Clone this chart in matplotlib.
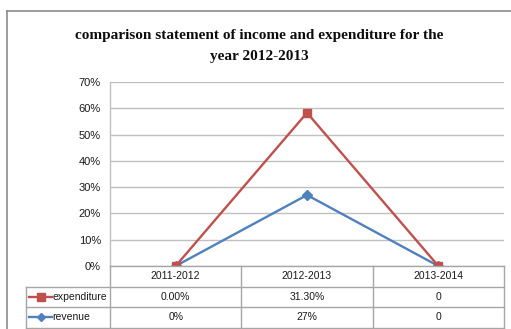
import matplotlib
matplotlib.use("Agg")
import matplotlib.pyplot as plt
import numpy as np

categories = ["2011-2012", "2012-2013", "2013-2014"]
expenditure = [0.0, 31.3, 0.0]
revenue = [0.0, 27.0, 0.0]
expenditure_labels = ["0.00%", "31.30%", "0"]
revenue_labels = ["0%", "27%", "0"]
y_ticks = [0, 10, 20, 30, 40, 50, 60, 70]
series_names = ["expenditure", "revenue"]
title = "comparison statement of income and expenditure for the\nyear 2012-2013"

RED = "#C0504D"
BLUE = "#4F81BD"
GRID = "#C0C0C0"
BORDER = "#A6A6A6"

body_font = ["Liberation Sans", "DejaVu Sans"]

W, H = 511, 329
DPI = 100
fig = plt.figure(figsize=(W / DPI, H / DPI), dpi=DPI)


def px_box(l, t, r, b):
    return [l / W, 1 - b / H, (r - l) / W, (b - t) / H]


# plot area
ax = fig.add_axes(px_box(110, 82, 504, 266))
x = np.arange(len(categories))
rev = np.array(revenue)
stacked = rev + np.array(expenditure)  # stacked lines: expenditure sits on revenue

ax.plot(x, rev, color=BLUE, lw=1.7, marker="D", ms=4.8, zorder=3)
ax.plot(x, stacked, color=RED, lw=1.7, marker="s", ms=6, zorder=4)

ax.set_xlim(-0.5, len(categories) - 0.5)
ax.set_ylim(0, 70)
ax.set_yticks(y_ticks)
ax.set_yticklabels([f"{v}%" for v in y_ticks], fontfamily=body_font, fontsize=8, color="#1A1A1A")
ax.tick_params(axis="y", length=0, pad=6.5)
ax.set_xticks([])
ax.grid(axis="y", color=GRID, lw=1.0)
ax.set_axisbelow(True)
for s in ["top", "right", "bottom"]:
    ax.spines[s].set_visible(False)
ax.spines["left"].set_color(GRID)
ax.spines["left"].set_linewidth(1.0)
ax.patch.set_alpha(0)

fig.text(0.508, 1 - 46 / H, title, ha="center", va="center", fontfamily="Liberation Serif",
         fontweight="bold", fontsize=11, linespacing=1.75, color="#0D0D0D")

# overlay in pixel coordinates for the data table and chart frame
ov = fig.add_axes([0, 0, 1, 1])
ov.set_xlim(0, W)
ov.set_ylim(H, 0)
ov.axis("off")
ov.patch.set_alpha(0)

# chart frame (right and bottom edges fall outside the image)
ov.plot([7, W], [11, 11], color="#8C8C8C", lw=1.2)
ov.plot([7, 7], [11, H], color="#8C8C8C", lw=1.2)


def to_px(xv):
    return ax.transData.transform((xv, 0))[0]


edges = [to_px(e) for e in np.arange(len(categories) + 1) - 0.5]
centers = [to_px(c) for c in x]
row_top, row_h = 266, 20.5
table_left = 26
rows = [row_top + i * row_h for i in range(4)]

# horizontal rules
ov.plot([edges[0], edges[-1]], [rows[0], rows[0]], color=BORDER, lw=1.0)
for yv in rows[1:]:
    ov.plot([table_left, edges[-1]], [yv, yv], color=BORDER, lw=1.0)
# vertical rules
for e in edges:
    ov.plot([e, e], [rows[0], rows[3]], color=BORDER, lw=1.0)
ov.plot([table_left, table_left], [rows[1], rows[3]], color=BORDER, lw=1.0)

text_kw = dict(fontfamily=body_font, fontsize=7.5, color="#1A1A1A", va="center")
for c, lab in zip(centers, categories):
    ov.text(c, rows[0] + row_h / 2, lab, ha="center", **text_kw)

table_rows = [(series_names[0], expenditure_labels, RED, "s", 5.5),
              (series_names[1], revenue_labels, BLUE, "D", 4.0)]
for i, (name, labels, col, mk, ms) in enumerate(table_rows):
    yc = rows[i + 1] + row_h / 2
    ov.plot([29, 52], [yc, yc], color=col, lw=1.7)
    ov.plot([40.5], [yc], color=col, marker=mk, ms=ms)
    ov.text(52.5, yc, name, ha="left", **text_kw)
    for c, lab in zip(centers, labels):
        ov.text(c, yc, lab, ha="center", **text_kw)

fig.savefig("out.png", dpi=DPI)
